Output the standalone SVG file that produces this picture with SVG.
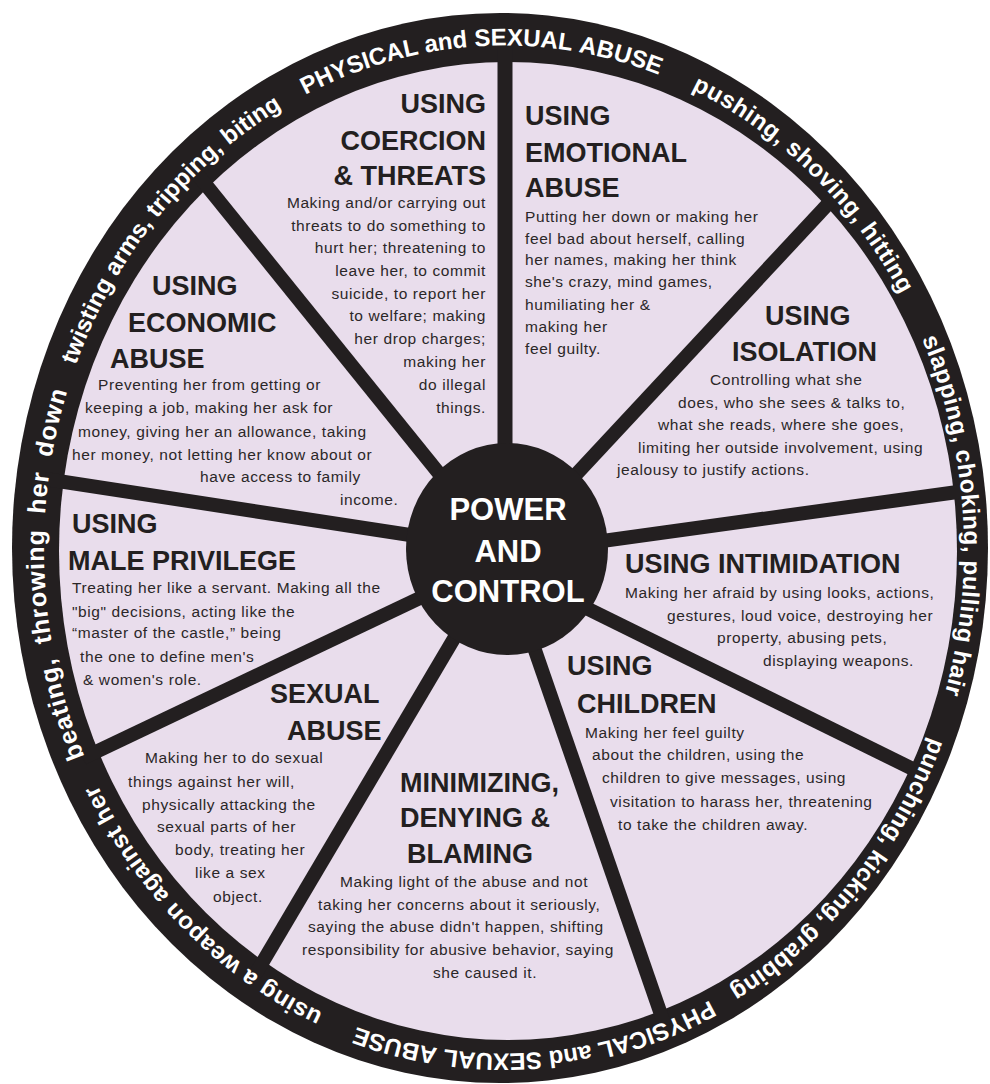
<svg xmlns="http://www.w3.org/2000/svg" width="990" height="1084" viewBox="0 0 990 1084">
<defs>
<style>
.h{font-family:"Liberation Sans",Arial,sans-serif;font-weight:bold;font-size:27px;fill:#231f20}
.b{font-family:"Liberation Sans",Arial,sans-serif;font-size:15.5px;letter-spacing:0.6px;fill:#2b2728}
.c{font-family:"Liberation Sans",Arial,sans-serif;font-weight:bold;font-size:31px;fill:#ffffff;text-anchor:middle}
.r{font-family:"Liberation Sans",Arial,sans-serif;font-weight:bold;font-size:24px;fill:#ffffff}
.l5{letter-spacing:0.5px}
.l3{letter-spacing:0.3px}
.l7{font-size:25px;letter-spacing:1px}
.sp{stroke:#231f20;stroke-width:14;fill:none}
.e{text-anchor:end}
</style>
<path id="p1" d="M220.8 152.3 A460 504 0 0 1 747.8 122.1"/>
<path id="p2" d="M560.1 49.3 A460 504 0 0 1 952.2 436.1"/>
<path id="p3" d="M861.5 232.3 A460 504 0 0 1 898.3 809.1"/>
<path id="p4" d="M961.5 602.2 A460 504 0 0 1 615.3 1038.5"/>
<path id="p5" d="M793.5 941.2 A460 504 0 0 1 267.1 981.5"/>
<path id="p6" d="M440.0 1048.6 A460 504 0 0 1 54.1 654.3"/>
<path id="p7" d="M136.6 852.8 A460 504 0 0 1 118.2 275.0"/>
<path id="p8" d="M46.5 496.8 A460 504 0 0 1 392.7 60.5"/>
</defs>
<rect width="990" height="1084" fill="#ffffff"/>
<g id="wheel">
<ellipse cx="500" cy="548" rx="488" ry="535" fill="#231f20"/>
<ellipse cx="508" cy="551" rx="449" ry="489" fill="#e9ddec"/>
</g>
<g id="connectors">
<line class="sp" x1="505" y1="40" x2="505" y2="549" style="stroke-width:15"/>
<line class="sp" x1="841" y1="190" x2="515" y2="540"/>
<line class="sp" x1="972" y1="490" x2="508" y2="554"/>
<line class="sp" x1="923" y1="774" x2="507" y2="569"/>
<line class="sp" x1="665" y1="1026" x2="501" y2="552"/>
<line class="sp" x1="255" y1="975" x2="504" y2="554"/>
<line class="sp" x1="83" y1="758" x2="500" y2="560"/>
<line class="sp" x1="45" y1="479" x2="508" y2="550"/>
<line class="sp" x1="198" y1="175" x2="496" y2="544"/>
</g>
<g id="center">
<ellipse cx="507" cy="549" rx="101" ry="106" fill="#231f20"/>
<text class="c" x="508" y="520">POWER</text>
<text class="c" x="508" y="562">AND</text>
<text class="c" x="508" y="602">CONTROL</text>
</g>
<g id="ring-labels">
<text class="r"><textPath href="#p1" startOffset="102.3">PHYSICAL</textPath></text>
<text class="r"><textPath href="#p1" startOffset="230.3">and</textPath></text>
<text class="r"><textPath href="#p1" startOffset="279.7">SEXUAL</textPath></text>
<text class="r"><textPath href="#p1" startOffset="383.7">ABUSE</textPath></text>
<text class="r l5"><textPath href="#p2" startOffset="138.0">pushing,</textPath></text>
<text class="r l5"><textPath href="#p2" startOffset="249.2">shoving,</textPath></text>
<text class="r l5"><textPath href="#p2" startOffset="359.1">hitting</textPath></text>
<text class="r l5"><textPath href="#p3" startOffset="122.7">slapping,</textPath></text>
<text class="r l5"><textPath href="#p3" startOffset="239.8">choking,</textPath></text>
<text class="r l5"><textPath href="#p3" startOffset="349.7">pulling</textPath></text>
<text class="r l5"><textPath href="#p3" startOffset="439.1">hair</textPath></text>
<text class="r l3"><textPath href="#p4" startOffset="139.1">punching,</textPath></text>
<text class="r l3"><textPath href="#p4" startOffset="263.5">kicking,</textPath></text>
<text class="r l3"><textPath href="#p4" startOffset="362.3">grabbing</textPath></text>
<text class="r"><textPath href="#p5" startOffset="102.6">PHYSICAL</textPath></text>
<text class="r"><textPath href="#p5" startOffset="230.6">and</textPath></text>
<text class="r"><textPath href="#p5" startOffset="280.0">SEXUAL</textPath></text>
<text class="r"><textPath href="#p5" startOffset="384.0">ABUSE</textPath></text>
<text class="r l5"><textPath href="#p6" startOffset="122.9">using</textPath></text>
<text class="r l5"><textPath href="#p6" startOffset="196.6">a</textPath></text>
<text class="r l5"><textPath href="#p6" startOffset="217.6">weapon</textPath></text>
<text class="r l5"><textPath href="#p6" startOffset="317.2">against</textPath></text>
<text class="r l5"><textPath href="#p6" startOffset="411.9">her</textPath></text>
<text class="r l7"><textPath href="#p7" startOffset="109.6">beating,</textPath></text>
<text class="r l7"><textPath href="#p7" startOffset="228.5">throwing</textPath></text>
<text class="r l7"><textPath href="#p7" startOffset="357.1">her</textPath></text>
<text class="r l7"><textPath href="#p7" startOffset="414.0">down</textPath></text>
<text class="r"><textPath href="#p8" startOffset="135.2">twisting</textPath></text>
<text class="r"><textPath href="#p8" startOffset="232.6">arms,</textPath></text>
<text class="r"><textPath href="#p8" startOffset="303.3">tripping,</textPath></text>
<text class="r"><textPath href="#p8" startOffset="406.0">biting</textPath></text>
</g>
<g id="seg-coercion">
<text class="h e" x="486" y="113">USING</text>
<text class="h e" x="486" y="150">COERCION</text>
<text class="h e" x="486" y="185">&amp; THREATS</text>
<text class="b e" x="486" y="208">Making and/or carrying out</text>
<text class="b e" x="486" y="231">threats to do something to</text>
<text class="b e" x="486" y="253">hurt her; threatening to</text>
<text class="b e" x="486" y="276">leave her, to commit</text>
<text class="b e" x="486" y="299">suicide, to report her</text>
<text class="b e" x="486" y="321">to welfare; making</text>
<text class="b e" x="486" y="344">her drop charges;</text>
<text class="b e" x="486" y="367">making her</text>
<text class="b e" x="486" y="390">do illegal</text>
<text class="b e" x="486" y="413">things.</text>
</g>
<g id="seg-emotional">
<text class="h" x="525" y="125">USING</text>
<text class="h" x="525" y="162">EMOTIONAL</text>
<text class="h" x="525" y="197">ABUSE</text>
<text class="b" x="525" y="222">Putting her down or making her</text>
<text class="b" x="525" y="244">feel bad about herself, calling</text>
<text class="b" x="525" y="265">her names, making her think</text>
<text class="b" x="525" y="287">she's crazy, mind games,</text>
<text class="b" x="525" y="310">humiliating her &amp;</text>
<text class="b" x="525" y="332">making her</text>
<text class="b" x="525" y="354">feel guilty.</text>
</g>
<g id="seg-isolation">
<text class="h" x="765" y="325">USING</text>
<text class="h" x="732" y="361">ISOLATION</text>
<text class="b" x="710" y="385">Controlling what she</text>
<text class="b" x="678" y="408">does, who she sees &amp; talks to,</text>
<text class="b" x="658" y="430">what she reads, where she goes,</text>
<text class="b" x="638" y="453">limiting her outside involvement, using</text>
<text class="b" x="617" y="475">jealousy to justify actions.</text>
</g>
<g id="seg-intimidation">
<text class="h" x="625" y="573">USING INTIMIDATION</text>
<text class="b" x="625" y="598">Making her afraid by using looks, actions,</text>
<text class="b" x="667" y="621">gestures, loud voice, destroying her</text>
<text class="b" x="717" y="643">property, abusing pets,</text>
<text class="b" x="763" y="666">displaying weapons.</text>
</g>
<g id="seg-children">
<text class="h" x="567" y="675">USING</text>
<text class="h" x="577" y="713">CHILDREN</text>
<text class="b" x="585" y="738">Making her feel guilty</text>
<text class="b" x="592" y="760">about the children, using the</text>
<text class="b" x="602" y="783">children to give messages, using</text>
<text class="b" x="610" y="807">visitation to harass her, threatening</text>
<text class="b" x="618" y="830">to take the children away.</text>
</g>
<g id="seg-minimizing">
<text class="h" x="400" y="792">MINIMIZING,</text>
<text class="h" x="400" y="827">DENYING &amp;</text>
<text class="h" x="407" y="863">BLAMING</text>
<text class="b" x="340" y="887">Making light of the abuse and not</text>
<text class="b" x="318" y="910">taking her concerns about it seriously,</text>
<text class="b" x="308" y="932">saying the abuse didn't happen, shifting</text>
<text class="b" x="302" y="955">responsibility for abusive behavior, saying</text>
<text class="b" x="433" y="978">she caused it.</text>
</g>
<g id="seg-sexual">
<text class="h" x="270" y="703">SEXUAL</text>
<text class="h" x="287" y="740">ABUSE</text>
<text class="b" x="145" y="763">Making her to do sexual</text>
<text class="b" x="128" y="787">things against her will,</text>
<text class="b" x="142" y="810">physically attacking the</text>
<text class="b" x="157" y="832">sexual parts of her</text>
<text class="b" x="175" y="855">body, treating her</text>
<text class="b" x="195" y="878">like a sex</text>
<text class="b" x="213" y="902">object.</text>
</g>
<g id="seg-privilege">
<text class="h" x="72" y="533">USING</text>
<text class="h" x="68" y="570">MALE PRIVILEGE</text>
<text class="b" x="72" y="593">Treating her like a servant. Making all the</text>
<text class="b" x="72" y="617">"big" decisions, acting like the</text>
<text class="b" x="72" y="638">“master of the castle,” being</text>
<text class="b" x="80" y="662">the one to define men's</text>
<text class="b" x="83" y="685">&amp; women's role.</text>
</g>
<g id="seg-economic">
<text class="h" x="152" y="295">USING</text>
<text class="h" x="128" y="332">ECONOMIC</text>
<text class="h" x="110" y="368">ABUSE</text>
<text class="b" x="98" y="390">Preventing her from getting or</text>
<text class="b" x="85" y="413">keeping a job, making her ask for</text>
<text class="b" x="78" y="437">money, giving her an allowance, taking</text>
<text class="b" x="72" y="460">her money, not letting her know about or</text>
<text class="b" x="200" y="482">have access to family</text>
<text class="b" x="340" y="505">income.</text>
</g>
</svg>
